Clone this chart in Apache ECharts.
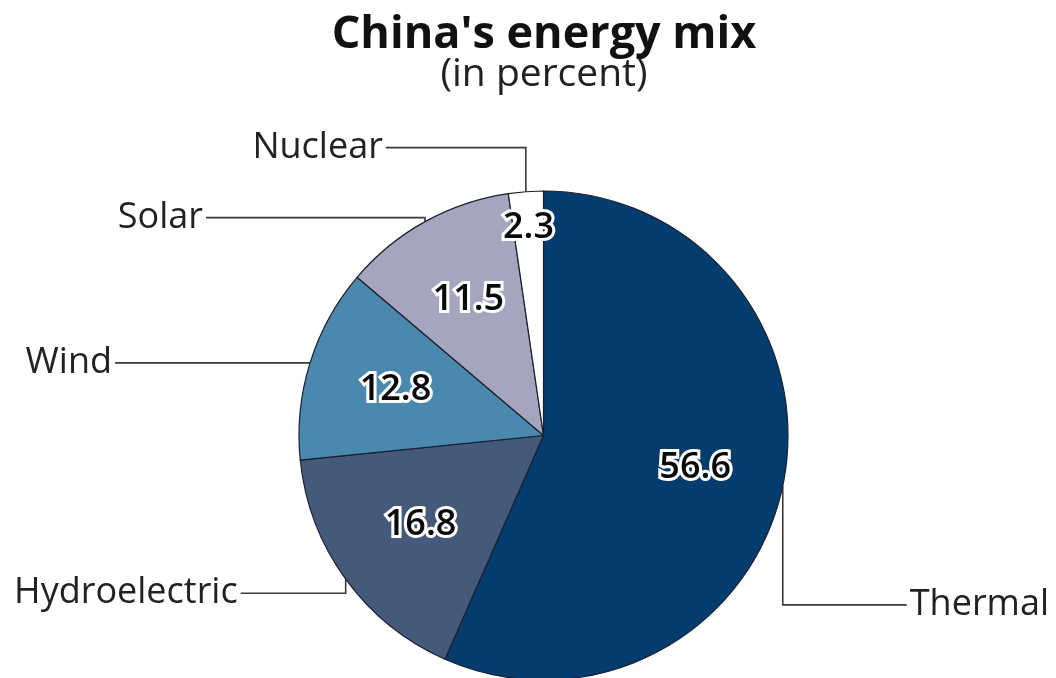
<!DOCTYPE html>
<html>
<head>
<meta charset="utf-8">
<script src="https://cdn.jsdelivr.net/npm/echarts@6/dist/echarts.min.js"></script>
<style>
  html, body { margin: 0; padding: 0; background: #ffffff; }
  #chart { width: 1056px; height: 678px; }
</style>
</head>
<body>
<div id="chart"></div>
<script>
// ---- data ----
const categories = ['Thermal', 'Hydroelectric', 'Wind', 'Solar', 'Nuclear'];
const shares = [56.6, 16.8, 12.8, 11.5, 2.3];
const titleText = "China's energy mix";
const subtitleText = '(in percent)';

// ---- styling / layout (not data) ----
const sliceColors = ['#033c6d', '#45597a', '#4b88ae', '#a5a6bd', '#ffffff'];
const centerPx = [543.5, 435.5];
const radiusPx = 244.5;
// elbow for each name label: [vertical offset from slice edge, horizontal run]
const nameElbow = [[119, 124], [14, -105], [0, -195], [-4, -219], [-44, -140]];
// radial distance of value labels
const valueRadius = [155, 152, 155, 155, 208];

const fontFam = '"Open Sans", "Noto Sans", sans-serif';

const chart = echarts.init(document.getElementById('chart'), null, { renderer: 'canvas' });

const pieData = categories.map((c, i) => ({
  name: c,
  value: shares[i],
  itemStyle: { color: sliceColors[i] }
}));

function valueLayout(p) {
  const r = p.labelRect;
  const mx = r.x + r.width / 2 - centerPx[0];
  const my = r.y + r.height / 2 - centerPx[1];
  const d = Math.sqrt(mx * mx + my * my) || 1;
  const R = valueRadius[p.dataIndex];
  return {
    x: centerPx[0] + mx / d * R,
    y: centerPx[1] + my / d * R,
    align: 'center',
    verticalAlign: 'middle'
  };
}

function valueSeries(fill, stroke, strokeWidth) {
  return {
    type: 'pie',
    center: centerPx,
    radius: [0, radiusPx * 1.268],
    startAngle: 90,
    clockwise: true,
    avoidLabelOverlap: false,
    silent: true,
    data: categories.map((c, i) => ({ name: c, value: shares[i] })),
    itemStyle: { color: 'rgba(0,0,0,0)', borderWidth: 0 },
    label: {
      show: true,
      position: 'inside',
      formatter: function (p) { return p.value.toFixed(1); },
      fontFamily: fontFam,
      fontWeight: 600,
      fontSize: 36,
      color: fill,
      textBorderColor: stroke,
      textBorderWidth: strokeWidth,
      textShadowBlur: 0,
      textShadowColor: 'transparent'
    },
    labelLine: { show: false },
    labelLayout: valueLayout
  };
}

const option = {
  backgroundColor: '#ffffff',
  animation: false,
  title: {
    text: titleText,
    subtext: subtitleText,
    left: 539,
    textAlign: 'center',
    top: 8,
    itemGap: -3,
    textStyle: { fontFamily: fontFam, fontWeight: 'bold', fontSize: 45, color: '#111111' },
    subtextStyle: { fontFamily: fontFam, fontWeight: 'normal', fontSize: 39, color: '#222222' }
  },
  series: [
    {
      type: 'pie',
      center: centerPx,
      radius: [0, radiusPx],
      startAngle: 90,
      clockwise: true,
      avoidLabelOverlap: false,
      silent: true,
      data: pieData,
      itemStyle: { borderColor: '#1b1f2e', borderWidth: 1.2 },
      label: {
        show: true,
        position: 'outside',
        formatter: '{b}',
        fontFamily: fontFam,
        fontSize: 36,
        color: '#222222'
      },
      labelLine: {
        show: true,
        length: 10,
        length2: 10,
        smooth: false,
        lineStyle: { color: '#3a3a3a', width: 1.6 }
      },
      labelLayout: function (p) {
        const i = p.dataIndex;
        const e = p.labelLinePoints[0];
        const g = nameElbow[i];
        const ey = e[1] + g[0];
        const ex = e[0] + g[1];
        const right = g[1] > 0;
        return {
          x: ex + (right ? 3 : -3),
          y: ey,
          align: right ? 'left' : 'right',
          verticalAlign: 'middle',
          labelLinePoints: [[e[0], e[1]], [e[0], ey], [ex, ey]]
        };
      }
    },
    valueSeries('#ffffff', '#ffffff', 6),
    valueSeries('#0a0a0a', 'transparent', 0)
  ]
};

chart.setOption(option);
</script>
</body>
</html>
